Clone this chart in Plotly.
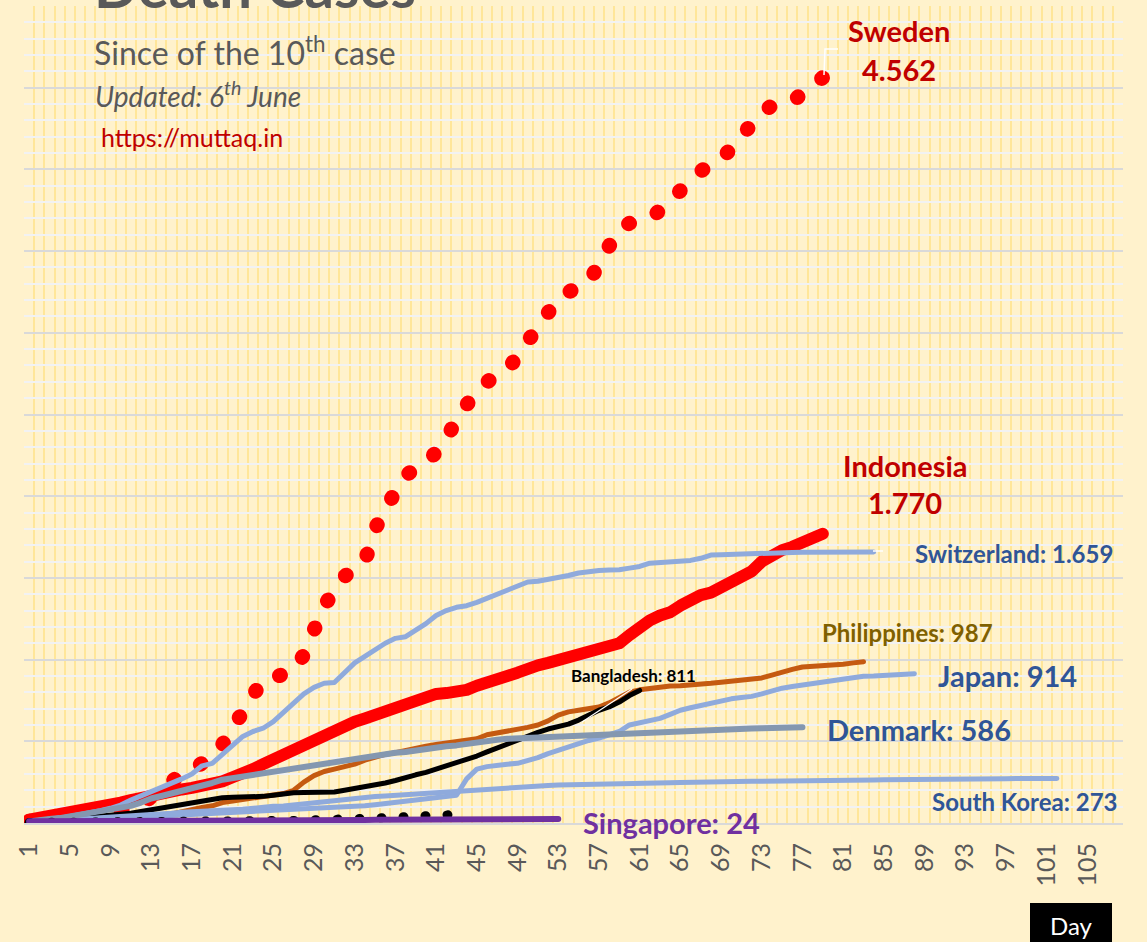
import plotly.graph_objects as go

# ---------------- data (cumulative deaths, day 1 = day of the 10th case) ----------------
sweden = [10,11,12,14,16,20,26,38,50,70, 90,110,160,210,250,300,330,370,400,480,
          580,680,770,880,890,900,930,1030,1200,1330, 1420,1510,1550,1600,1800,1930,2030,2130,2170,2200,
          2270,2340,2480,2580,2640,2700,2730,2770,2860,2950, 3060,3150,3210,3250,3280,3310,3420,3550,3640,3670,
          3690,3700,3750,3820,3870,3930,3990,4030,4060,4130, 4200,4290,4350,4390,4400,4410,4470,4520,4562]
indonesia = [20,30,40,50,60,70,80,95,110,125, 140,155,175,185,195,205,215,225,240,255,
             280,300,330,360,390,420,460,480,500,530, 570,600,620,640,660,680,700,720,750,775,
             790,795,800,815,840,865,880,900,920,950, 965,980,995,1010,1030,1045,1060,1080,1100,1150,
             1200,1240,1270,1290,1330,1370,1395,1410,1440,1480, 1510,1540,1600,1640,1670,1690,1720,1745,1770]
switzerland = [10,15,20,30,40,50,60,75,90,110, 140,165,190,215,240,270,300,350,365,420,
               480,530,560,580,620,680,740,790,830,855, 860,920,980,1020,1060,1100,1130,1140,1180,1220,
               1270,1300,1320,1330,1350,1375,1400,1425,1450,1475, 1480,1490,1500,1515,1530,1540,1545,1548,1550,1560,
               1570,1590,1595,1600,1603,1607,1620,1640,1642,1645, 1647,1648,1650,1652,1654,1656,1657,1657,1658,1658,
               1659,1659,1659,1659]
philippines = [12,12,15,17,19,20,25,28,30,33, 35,38,40,45,55,70,80,95,105,125,
               135,145,155,160,170,180,200,250,290,315, 330,345,360,385,405,420,430,445,460,470,
               480,490,500,505,515,540,550,560,570,585, 600,625,660,680,690,700,710,735,770,800,
               815,825,835,838,840,843,848,855,862,868, 873,878,888,905,925,940,955,958,960,965,
               972,980,987]
bangladesh = [10,12,15,20,25,30,35,40,45,55, 60,70,80,90,105,115,125,135,145,155,
              157,158,160,163,170,180,185,186,187,188, 190,200,210,220,230,245,260,280,295,310,
              330,345,365,385,410,435,460,485,510,535, 555,575,590,605,630,660,690,710,740,780,
              811]
japan = [10,12,14,16,18,20,22,24,27,30, 33,36,40,43,46,49,52,55,57,60,
         62,65,68,70,73,76,78,82,85,88, 92,96,100,105,112,120,128,136,145,152,
         160,165,170,270,330,345,355,360,365,380, 400,425,445,470,490,505,520,540,560,600,
         615,625,640,665,690,705,720,735,750,760, 768,775,790,810,825,835,845,855,860,870,
         885,895,898,900,905,908,911,914]
south_korea = [10,12,13,16,17,22,28,32,35,42, 44,50,53,54,60,66,66,72,75,75,
               81,84,91,94,102,104,111,120,126,131, 139,144,152,158,162,165,169,174,177,183,
               186,192,200,204,208,211,214,217,222,225, 229,230,232,234,236,237,238,240,240,242,
               243,244,246,247,248,250,250,252,254,255, 256,256,256,256,258,259,260,260,262,262,
               263,263,263,263,264,264,266,266,267,269, 269,269,270,270,271,271,271,272,272,272,
               273,273]
denmark = [10,20,25,30,40,50,60,70,80,90, 105,125,150,165,180,200,215,230,245,265,
           275,285,295,305,315,325,335,345,355,360, 370,380,390,400,410,420,430,435,445,455,
           460,470,475,485,495,505,510,515,518,520, 522,524,526,528,533,537,540,543,545,547,
           548,550,554,558,561,563,565,568,571,574, 576,578,580,582,584,585,586]
singapore = [10,10,11,11,11,12,12,12,13,13, 13,14,14,14,15,15,15,15,16,16,
             16,16,17,17,17,17,18,18,18,18, 19,19,19,19,20,20,20,20,21,21,
             21,21,22,22,22,22,23,23,23,23, 23,24,24]
unlabeled_dotted = [3,3,4,4,5,5,5,6,6,7, 7,8,8,9,9,10,10,11,11,12,
                    12,13,13,14,14,15,16,18,18,19, 20,22,24,27,30,33,36,39,42,45,
                    48,51,53,55]

# ---------------- styles ----------------
W, H = 1147, 942
L, R, T, B = 24, 1123, 6, 823   # plot area in pixels

def px(x):
    return (x - L) / (R - L)

def py(y):
    return (B - y) / (B - T)

series = [
    ("Sweden", sweden, "#FF0000", 15, "1px,30px"),
    ("Indonesia", indonesia, "#FF0000", 12, None),
    ("Philippines", philippines, "#C55A11", 5, None),
    ("Bangladesh", bangladesh, "#000000", 5, None),
    ("Japan", japan, "#8FAADC", 5, None),
    ("South Korea", south_korea, "#8FAADC", 5, None),
    ("Switzerland", switzerland, "#8FAADC", 5, None),
    ("Denmark", denmark, "#8497B0", 6, None),
    ("Other", unlabeled_dotted, "#000000", 9, "1px,21px"),
    ("Singapore", singapore, "#7030A0", 6, None),
]

fig = go.Figure()
for name, vals, color, width, dash in series:
    days = list(range(1, len(vals) + 1))
    line = dict(color=color, width=width)
    if dash:
        line["dash"] = dash
    fig.add_trace(go.Scatter(x=days, y=vals, mode="lines", name=name, line=line,
                             hoverinfo="x+y+name"))

FONT = "Lato"
GRAY = "#595959"
BLUE = "#2F5597"
DRED = "#C00000"

def ann(text, x, y, size, color, xanchor="left", yanchor="middle", family=FONT):
    fig.add_annotation(text=text, x=px(x), y=py(y), xref="paper", yref="paper",
                       xanchor=xanchor, yanchor=yanchor, showarrow=False,
                       font=dict(family=family, size=size, color=color))

# header texts
ann("<b>Death Cases</b>", 255, -14, 58, GRAY, xanchor="center")
ann("Since of the 10<sup>th</sup> case", 92, 51, 32, GRAY)
ann("<i>Updated: 6<sup>th</sup> June</i>", 93, 94, 28, GRAY)
ann("https://muttaq.in", 99, 137, 25, DRED)

# series labels
ann("<b>Sweden</b>", 899, 31, 29, DRED, xanchor="center")
ann("<b>4.562</b>", 899, 69, 29, DRED, xanchor="center")
ann("<b>Indonesia</b>", 905, 465, 29, DRED, xanchor="center")
ann("<b>1.770</b>", 905, 503, 29, DRED, xanchor="center")
ann("<b>Switzerland: 1.659</b>", 913, 553, 24, BLUE)
ann("<b>Philippines: 987</b>", 820, 632, 24, "#7F6000")
ann("<b>Bangladesh: 811</b>", 569, 675, 17, "#000000")
ann("<b>Japan: 914</b>", 936, 675, 29, BLUE)
ann("<b>Denmark: 586</b>", 825, 729, 29, BLUE)
ann("<b>South Korea: 273</b>", 930, 801, 24, BLUE)
ann("<b>Singapore: 24</b>", 581, 822, 29, "#7030A0")

# leader lines (white)
fig.add_shape(type="path", xref="paper", yref="paper",
              path=f"M {px(824)},{py(75)} L {px(825)},{py(49)} L {px(838)},{py(49)}",
              line=dict(color="white", width=1.5))
fig.add_shape(type="line", xref="paper", yref="paper",
              x0=px(873), y0=py(551), x1=px(883), y1=py(551),
              line=dict(color="white", width=1.5))
fig.add_shape(type="line", xref="paper", yref="paper",
              x0=px(582), y0=py(722), x1=px(632), y1=py(689),
              line=dict(color="white", width=1.2))

# Day box
fig.add_shape(type="rect", xref="paper", yref="paper",
              x0=px(1030), x1=px(1112), y0=py(903), y1=py(950),
              fillcolor="#000000", line=dict(width=0), layer="above")
ann("Day", 1071, 925, 24, "#FFFFFF", xanchor="center")

fig.update_layout(
    width=W, height=H,
    margin=dict(l=L, r=W - R, t=T, b=H - B),
    paper_bgcolor="#FFF2CC", plot_bgcolor="#FFF2CC",
    showlegend=False,
    font=dict(family=FONT),
    xaxis=dict(range=[0.5, 108.5], tickmode="linear", tick0=1, dtick=4,
               tickangle=-90, tickfont=dict(family=FONT, size=25, color=GRAY),
               showgrid=False, zeroline=False, showline=True,
               linecolor="#D9D9D9", linewidth=2, ticks="",
               ticklabelstandoff=8,
               minor=dict(tick0=0.5, dtick=1, showgrid=True,
                          gridcolor="#FFE699", gridwidth=2, ticks="")),
    yaxis=dict(range=[0, 5000], tickmode="linear", tick0=0, dtick=500,
               showgrid=True, gridcolor="#D9D9D9", gridwidth=2,
               showticklabels=False, zeroline=False, ticks="",
               minor=dict(dtick=100, showgrid=True, gridcolor="#F2F2F2",
                          gridwidth=2, ticks="")),
)

post = """
var gd = document.getElementById('{plot_id}');
document.body.style.margin = '0';
document.body.style.overflow = 'hidden';
function roundCaps(){
  gd.querySelectorAll('path.js-line').forEach(function(p){
    p.style.strokeLinecap = 'round';
    p.style.strokeLinejoin = 'round';
  });
}
roundCaps();
if (gd.on) { gd.on('plotly_afterplot', roundCaps); }
setTimeout(roundCaps, 50);
setTimeout(roundCaps, 400);
"""

fig.write_html("out.html", post_script=post, config={"displayModeBar": False})
